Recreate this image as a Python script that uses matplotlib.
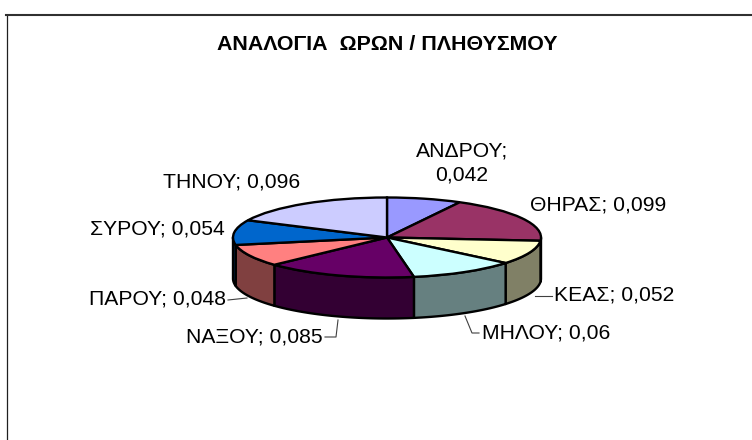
import numpy as np
import matplotlib
matplotlib.use("Agg")
import matplotlib.pyplot as plt
from matplotlib.transforms import Affine2D

plt.rcParams['font.family'] = ['Liberation Sans', 'DejaVu Sans']

title = "ΑΝΑΛΟΓΙΑ  ΩΡΩΝ / ΠΛΗΘΥΣΜΟΥ"
names = ["ΑΝΔΡΟΥ", "ΘΗΡΑΣ", "ΚΕΑΣ", "ΜΗΛΟΥ", "ΝΑΞΟΥ", "ΠΑΡΟΥ", "ΣΥΡΟΥ", "ΤΗΝΟΥ"]
values = [0.042, 0.099, 0.052, 0.06, 0.085, 0.048, 0.054, 0.096]
colors = ["#9999FF", "#993366", "#FFFFCC", "#CCFFFF", "#660066", "#FF8080", "#0066CC", "#CCCCFF"]

W, H = 752, 440
CX, CY, RX, RY, DEPTH = 387, 237.5, 154, 40, 41

fig = plt.figure(figsize=(W / 100, H / 100), dpi=100)
ax = fig.add_axes([0, 0, 1, 1])
px = Affine2D().scale(1 / W, -1 / H).translate(0, 1) + fig.transFigure

ax.pie(values, colors=colors, startangle=90, counterclock=False,
       wedgeprops=dict(edgecolor="black", linewidth=1.7, zorder=3))
ax.set_aspect("auto")
ax.set_xlim(-CX / RX, (W - CX) / RX)
ax.set_ylim((CY - H) / RY, CY / RY)
ax.axis("off")

# side walls: the front half of the rim, pushed down by the pie's depth
d = DEPTH / RY
fracs = np.array(values) / np.sum(values)
edges = np.concatenate([[0], np.cumsum(fracs)]) * 360
for a0, a1, c in zip(edges[:-1], edges[1:], colors):
    lo, hi = max(a0, 90), min(a1, 270)
    if hi <= lo:
        continue
    t = np.radians(np.linspace(lo, hi, 60))
    x, y = np.sin(t), np.cos(t)
    rgb = np.array(matplotlib.colors.to_rgb(c)) * 0.5
    ax.fill(np.r_[x, x[::-1]], np.r_[y, y[::-1] - d], facecolor=rgb,
            edgecolor="black", linewidth=1.7, zorder=2, joinstyle="round")

def label(i):
    return f"{names[i]}; {values[i]}".replace(".", ",")

fs = 15.2
kw = dict(transform=px, fontsize=fs, color="black", zorder=5)
ax.text(462, 163, f"{names[0]};\n{str(values[0]).replace('.', ',')}", ha="center", va="center",
        linespacing=1.38, **kw)
ax.text(530, 205, label(1), ha="left", va="center", **kw)
ax.text(554, 295, label(2), ha="left", va="center", **kw)
ax.text(482, 333, label(3), ha="left", va="center", **kw)
ax.text(323, 337, label(4), ha="right", va="center", **kw)
ax.text(226, 299, label(5), ha="right", va="center", **kw)
ax.text(225, 229, label(6), ha="right", va="center", **kw)
ax.text(300, 182, label(7), ha="right", va="center", **kw)

ax.text(387, 44, title, transform=px, fontsize=15.4, fontweight="bold",
        ha="center", va="center", zorder=5)

# leader lines
for xs, ys in [([552, 535], [296, 296]),
               ([465, 472, 479], [316, 333, 333]),
               ([338, 336, 325], [320, 337, 337]),
               ([228, 247], [300, 298])]:
    ax.plot(xs, ys, transform=px, color="#404040", linewidth=0.8, zorder=1, clip_on=False)

# chart frame
ax.plot([6.5, 6.5], [H, 15], transform=px, color="#202020", linewidth=0.9, zorder=1)
ax.plot([6, W], [15, 15], transform=px, color="#303030", linewidth=1.5, zorder=1)

fig.savefig("out.png", dpi=100)
